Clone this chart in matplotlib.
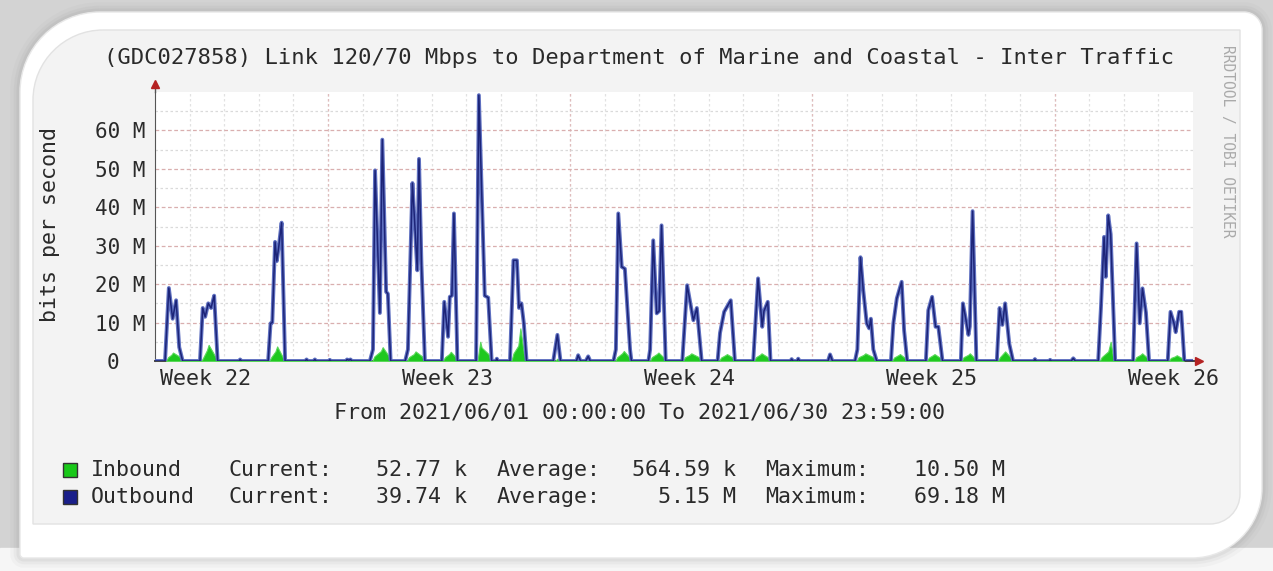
import numpy as np
import matplotlib.pyplot as plt
from matplotlib.patches import Rectangle, PathPatch
from matplotlib.path import Path

W, H = 1273, 571

# outbound traffic (day of month from 2021/06/01, Mbit/s)
out_t = [0.00, 0.29, 0.40, 0.51, 0.61, 0.70, 0.80,
         1.30, 1.38, 1.45, 1.54, 1.62, 1.71, 1.81,
         2.43, 2.46, 2.50,
         3.27, 3.34, 3.39, 3.47, 3.52, 3.58, 3.66, 3.76,
         4.34, 4.38, 4.42, 4.58, 4.62, 4.66, 5.02, 5.05, 5.09, 5.52, 5.55, 5.60, 5.65, 5.69,
         6.21, 6.30, 6.36, 6.50, 6.57, 6.68, 6.73, 6.81,
         7.23, 7.31, 7.44, 7.51, 7.58, 7.63, 7.70, 7.80,
         8.29, 8.36, 8.47, 8.52, 8.58, 8.64, 8.74,
         9.28, 9.36, 9.53, 9.63, 9.73,
         9.85, 9.88, 9.91,
         10.26, 10.36, 10.46, 10.52, 10.59, 10.66, 10.74,
         11.51, 11.63, 11.72,
         12.18, 12.23, 12.30, 12.45, 12.52, 12.58,
         13.25, 13.32, 13.39, 13.49, 13.58, 13.73, 13.77,
         14.26, 14.31, 14.40, 14.50, 14.57, 14.64, 14.76,
         15.24, 15.38, 15.56, 15.66, 15.80,
         16.26, 16.33, 16.45, 16.64, 16.76,
         17.29, 17.43, 17.55, 17.60, 17.71, 17.79,
         18.37, 18.40, 18.44, 18.56, 18.59, 18.63,
         19.45, 19.51, 19.58,
         20.23, 20.30, 20.39, 20.47, 20.57, 20.64, 20.69, 20.76, 20.86,
         21.27, 21.34, 21.44, 21.58, 21.65, 21.74,
         22.28, 22.35, 22.46, 22.56, 22.64, 22.76,
         23.29, 23.35, 23.44, 23.51, 23.55, 23.63, 23.74,
         24.33, 24.41, 24.49, 24.57, 24.69, 24.80,
         25.40, 25.43, 25.47, 25.84, 25.87, 25.91, 26.48, 26.54, 26.60,
         27.26, 27.34, 27.43, 27.48, 27.55, 27.62, 27.75,
         28.27, 28.37, 28.46, 28.54, 28.64, 28.73,
         29.27, 29.35, 29.45, 29.50, 29.60, 29.66, 29.75,
         30.00]
out_v = [0, 0, 19.0, 11.0, 15.8, 3.6, 0,
         0, 13.8, 11.5, 15.0, 13.8, 17.0, 0,
         0, 0.4, 0,
         0, 9.8, 10.0, 31.0, 26.0, 30.0, 36.0, 0,
         0, 0.4, 0, 0, 0.4, 0, 0, 0.3, 0, 0, 0.4, 0.2, 0.4, 0,
         0, 3.0, 49.6, 12.5, 57.6, 18.0, 17.5, 0,
         0, 3.0, 46.3, 35.3, 23.6, 52.6, 25.4, 0,
         0, 15.4, 6.3, 16.7, 17.0, 38.4, 0,
         0, 69.18, 17.0, 16.5, 0,
         0, 0.6, 0,
         0, 26.2, 26.2, 13.8, 15.0, 9.8, 0,
         0, 6.8, 0,
         0, 1.5, 0, 0, 1.2, 0,
         0, 3.0, 38.4, 24.5, 24.0, 3.0, 0,
         0, 3.0, 31.4, 12.4, 13.0, 35.3, 0,
         0, 19.7, 10.6, 13.8, 0,
         0, 7.3, 12.8, 15.8, 0,
         0, 21.5, 8.9, 13.0, 15.4, 0,
         0, 0.5, 0, 0, 0.6, 0,
         0, 1.7, 0,
         0, 3.0, 27.0, 18.4, 9.8, 8.5, 11.0, 3.0, 0,
         0, 9.8, 16.3, 20.6, 8.0, 0,
         0, 13.2, 16.7, 8.9, 8.9, 0,
         0, 15.0, 10.6, 6.8, 9.0, 39.0, 0,
         0, 13.8, 9.4, 15.0, 4.5, 0,
         0, 0.5, 0, 0, 0.3, 0, 0, 0.7, 0,
         0, 14.0, 32.3, 21.9, 37.9, 33.0, 0,
         0, 30.6, 9.8, 18.9, 12.6, 0,
         0, 12.8, 9.8, 7.5, 12.8, 12.8, 0,
         0.04]

# inbound traffic
in_t = [0.32, 0.38, 0.47, 0.52, 0.70, 0.76,
        1.34, 1.40, 1.50, 1.55, 1.74, 1.80,
        3.30, 3.36, 3.48, 3.53, 3.68, 3.74,
        6.28, 6.34, 6.53, 6.58, 6.74, 6.80,
        7.28, 7.34, 7.48, 7.53, 7.72, 7.78,
        8.32, 8.38, 8.50, 8.55, 8.67, 8.73,
        9.32, 9.36, 9.40, 9.44, 9.64, 9.70,
        10.30, 10.36, 10.50, 10.56, 10.66, 10.72,
        11.56, 11.63, 11.70,
        13.30, 13.36, 13.50, 13.55, 13.69, 13.75,
        14.30, 14.36, 14.50, 14.55, 14.69, 14.75,
        15.26, 15.32, 15.45, 15.50, 15.72, 15.78,
        16.30, 16.36, 16.48, 16.53, 16.68, 16.74,
        17.31, 17.37, 17.48, 17.53, 17.71, 17.77,
        20.28, 20.34, 20.48, 20.53, 20.76, 20.82,
        21.30, 21.36, 21.48, 21.53, 21.66, 21.72,
        22.31, 22.37, 22.48, 22.53, 22.68, 22.74,
        23.31, 23.37, 23.50, 23.55, 23.66, 23.72,
        24.36, 24.42, 24.52, 24.57, 24.72, 24.78,
        27.30, 27.36, 27.55, 27.62, 27.68, 27.74,
        28.30, 28.36, 28.48, 28.53, 28.66, 28.72,
        29.30, 29.36, 29.48, 29.53, 29.67, 29.73]
in_v = [0, 1.0, 1.6, 2.2, 1.2, 0,
        0, 1.0, 2.8, 4.2, 1.2, 0,
        0, 1.0, 2.5, 3.8, 1.2, 0,
        0, 1.2, 2.6, 3.6, 1.5, 0,
        0, 1.0, 1.8, 2.5, 1.2, 0,
        0, 1.0, 1.8, 2.4, 1.2, 0,
        0, 2.5, 5.0, 3.5, 1.8, 0,
        0, 2.0, 4.0, 8.5, 2.0, 0,
        0, 0.6, 0,
        0, 1.0, 2.0, 2.6, 1.2, 0,
        0, 1.0, 1.8, 2.2, 1.0, 0,
        0, 1.0, 1.6, 2.0, 1.0, 0,
        0, 0.9, 1.5, 1.8, 1.0, 0,
        0, 1.0, 1.6, 2.0, 1.0, 0,
        0, 1.0, 1.6, 2.0, 1.0, 0,
        0, 0.9, 1.5, 1.8, 0.9, 0,
        0, 0.9, 1.5, 1.8, 0.9, 0,
        0, 1.0, 1.6, 2.0, 1.0, 0,
        0, 1.0, 2.0, 2.5, 1.0, 0,
        0, 1.0, 2.5, 5.0, 1.5, 0,
        0, 1.0, 1.6, 2.0, 1.0, 0,
        0, 0.8, 1.2, 1.5, 0.8, 0]

week_pos = [1.45, 8.45, 15.45, 22.45, 29.45]
week_lab = ['Week 22', 'Week 23', 'Week 24', 'Week 25', 'Week 26']
y_ticks = [0, 10, 20, 30, 40, 50, 60]
y_lab = ['0  ', '10 M', '20 M', '30 M', '40 M', '50 M', '60 M']

legend_names = ['Inbound', 'Outbound']
legend_cur = ['52.77 k', '39.74 k']
legend_avg = ['564.59 k', '5.15 M']
legend_max = ['10.50 M', '69.18 M']
legend_col = ['#19c819', '#1a1f8a']

mono = 'DejaVu Sans Mono'
fs = 15.6
tc = '#2a2a2a'

fig = plt.figure(figsize=(W / 100, H / 100), dpi=100)
fig.patch.set_facecolor('#d3d3d3')

# background / frame in pixel coordinates
bg = fig.add_axes([0, 0, 1, 1])
bg.set_xlim(0, W)
bg.set_ylim(H, 0)
bg.axis('off')
bg.add_patch(Rectangle((0, 548), W, 30, color='#f6f6f6', zorder=0))


def card(x0, y0, x1, y1, r_tl, r_tr, r_br, r_bl):
    k = 0.55
    verts = [(x0 + r_tl, y0), (x1 - r_tr, y0),
             (x1 - r_tr + k * r_tr, y0), (x1, y0 + r_tr - k * r_tr), (x1, y0 + r_tr),
             (x1, y1 - r_br),
             (x1, y1 - r_br + k * r_br), (x1 - r_br + k * r_br, y1), (x1 - r_br, y1),
             (x0 + r_bl, y1),
             (x0 + r_bl - k * r_bl, y1), (x0, y1 - r_bl + k * r_bl), (x0, y1 - r_bl),
             (x0, y0 + r_tl),
             (x0, y0 + r_tl - k * r_tl), (x0 + r_tl - k * r_tl, y0), (x0 + r_tl, y0)]
    codes = [Path.MOVETO, Path.LINETO,
             Path.CURVE4, Path.CURVE4, Path.CURVE4,
             Path.LINETO,
             Path.CURVE4, Path.CURVE4, Path.CURVE4,
             Path.LINETO,
             Path.CURVE4, Path.CURVE4, Path.CURVE4,
             Path.LINETO,
             Path.CURVE4, Path.CURVE4, Path.CURVE4]
    return Path(verts, codes)


frame = card(20, 12, 1262, 558, 80, 18, 70, 4)
for lw, a in [(14, 0.05), (9, 0.07), (5, 0.10)]:
    bg.add_patch(PathPatch(frame, facecolor='none', edgecolor='#888888', lw=lw, alpha=a, zorder=1))
bg.add_patch(PathPatch(frame, facecolor='white', edgecolor='#e8e8e8', lw=1, zorder=2))
inner = card(33, 30, 1240, 524, 70, 0, 30, 0)
bg.add_patch(PathPatch(inner, facecolor='#f3f3f3', edgecolor='#e2e2e2', lw=1, zorder=3))


def px(x, y):
    return x / W, 1 - y / H


# plot area
ax = fig.add_axes([155 / W, 1 - 361 / H, (1193 - 155) / W, (361 - 92) / H])
ax.set_facecolor('white')
ax.set_xlim(0, 30)
ax.set_ylim(0, 70)

for d in range(1, 30):
    ax.axvline(d, color='#e2e2e2', lw=0.9, ls=(0, (2, 2)), zorder=1)
for d in [5, 12, 19, 26]:
    ax.axvline(d, color='#e0bcbc', lw=0.9, ls=(0, (2, 2)), zorder=1)
for v in range(5, 70, 10):
    ax.axhline(v, color='#dadada', lw=0.9, ls=(0, (2, 2)), zorder=1)
for v in range(10, 70, 10):
    ax.axhline(v, color='#d9afaf', lw=0.9, ls=(0, (3, 2)), zorder=1)

ax.fill_between(in_t, in_v, color='#1ec81e', lw=0.8, edgecolor='#5ad85a', zorder=3)
ax.plot(out_t, out_v, color='#5f70c0', lw=2.8, zorder=4, solid_joinstyle='round')
ax.plot(out_t, out_v, color='#1c2478', lw=1.1, zorder=5, solid_joinstyle='round')

for s in ['top', 'right']:
    ax.spines[s].set_visible(False)
ax.spines['left'].set_color('#555555')
ax.spines['bottom'].set_color('#444444')
ax.spines['bottom'].set_linewidth(1.4)
ax.plot([0, 0], [1, 1.02], color='#555555', lw=1, transform=ax.transAxes, clip_on=False)
ax.plot([1, 1.004], [0, 0], color='#444444', lw=1.4, transform=ax.transAxes, clip_on=False)
ax.plot([0], [1.03], marker='^', color='#b52222', ms=6, transform=ax.transAxes, clip_on=False)
ax.plot([1.006], [0], marker='>', color='#b52222', ms=6, transform=ax.transAxes, clip_on=False)

ax.set_xticks(week_pos, week_lab)
ax.set_yticks(y_ticks, y_lab)
ax.tick_params(axis='x', length=0, pad=6, labelsize=fs, colors=tc)
ax.tick_params(axis='y', length=0, pad=7, labelsize=fs - 0.6, colors=tc)
for t in ax.get_xticklabels() + ax.get_yticklabels():
    t.set_family(mono)

# texts
fig.text(*px(639, 58), '(GDC027858) Link 120/70 Mbps to Department of Marine and Coastal - Inter Traffic',
         family=mono, fontsize=fs + 0.3, color=tc, ha='center', va='center')
fig.text(*px(50, 225), 'bits per second', family=mono, fontsize=fs, color=tc,
         rotation=90, ha='center', va='center')
fig.text(*px(1228, 45), 'RRDTOOL / TOBI OETIKER', family=mono, fontsize=10.5, color='#aaaaaa',
         rotation=-90, ha='center', va='top')
fig.text(*px(640, 412), 'From 2021/06/01 00:00:00 To 2021/06/30 23:59:00',
         family=mono, fontsize=fs, color=tc, ha='center', va='center')

for i, yy in enumerate([470, 497]):
    bg.add_patch(Rectangle((63, yy - 7), 14, 14, facecolor=legend_col[i], edgecolor='#333333', lw=1, zorder=5))
    fig.text(*px(91, yy), legend_names[i], family=mono, fontsize=fs, color=tc, va='center')
    fig.text(*px(228, yy), 'Current:', family=mono, fontsize=fs, color=tc, va='center')
    fig.text(*px(467, yy), legend_cur[i], family=mono, fontsize=fs, color=tc, va='center', ha='right')
    fig.text(*px(497, yy), 'Average:', family=mono, fontsize=fs, color=tc, va='center')
    fig.text(*px(736, yy), legend_avg[i], family=mono, fontsize=fs, color=tc, va='center', ha='right')
    fig.text(*px(765, yy), 'Maximum:', family=mono, fontsize=fs, color=tc, va='center')
    fig.text(*px(1005, yy), legend_max[i], family=mono, fontsize=fs, color=tc, va='center', ha='right')

fig.savefig('out.png', dpi=100)
